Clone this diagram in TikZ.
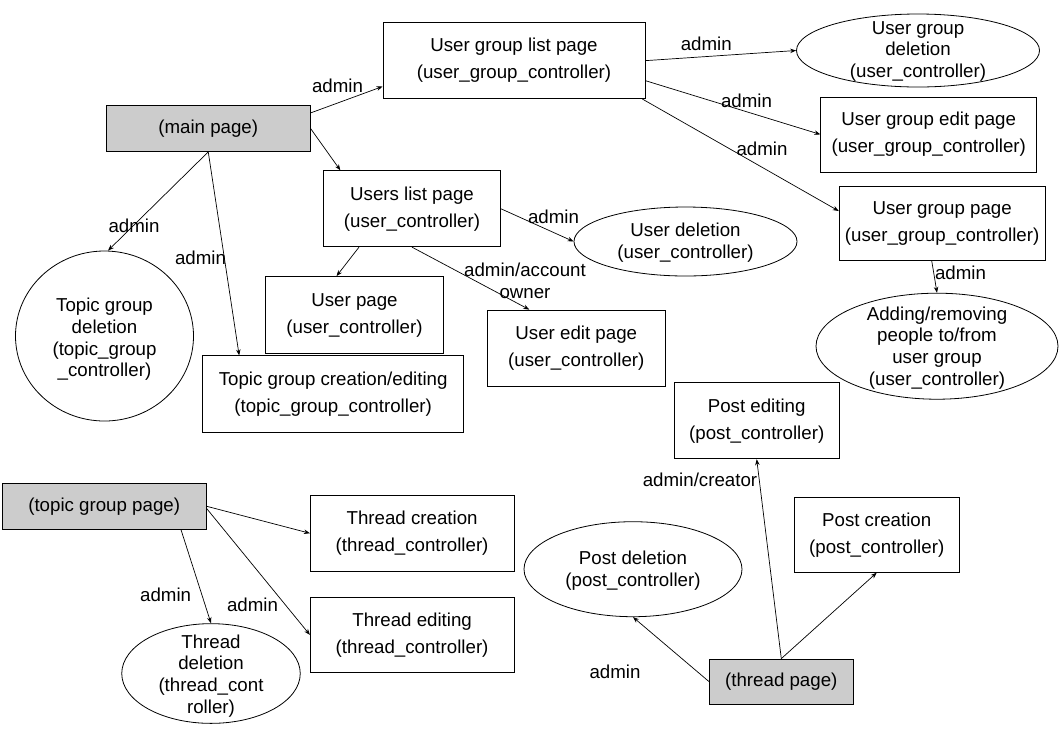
\documentclass[tikz,border=0pt]{standalone}
\usepackage{fontspec}
\setmainfont{Liberation Sans}
\usetikzlibrary{shapes.geometric,arrows.meta}

\definecolor{pagegray}{HTML}{CCCCCC}

\tikzset{
  page/.style={draw=black, line width=0.8pt, rectangle, align=center, inner sep=0pt,
    font=\fontsize{18.7}{27}\selectfont},
  hub/.style={page, fill=pagegray},
  action/.style={draw=black, line width=0.8pt, ellipse, inner sep=0pt},
  actiontext/.style={align=center, inner sep=0pt, font=\fontsize{18.7}{21.8}\selectfont},
  role/.style={align=center, inner sep=0pt, font=\fontsize{18.7}{21.8}\selectfont},
  link/.style={draw=black, line width=0.7pt, -{Stealth[length=6pt,width=4.5pt]}},
}

\begin{document}
\begin{tikzpicture}[x=1pt,y=-1pt]
\fill[white] (0,0) rectangle (1059,748);
\useasboundingbox (0,0) rectangle (1059,748);

% --- user administration ---
\node[hub, minimum width=203.5pt, minimum height=46.5pt] (main) at (208.25,128.25) {(main page)};
\node[page, minimum width=262pt, minimum height=76pt] (ugl) at (514,60.65) {User group list page\\(user\_group\_controller)};
\node[page, minimum width=177pt, minimum height=76pt] (usl) at (412,208.75) {Users list page\\(user\_controller)};
\node[page, minimum width=216pt, minimum height=75pt] (uge) at (928.75,134.4) {User group edit page\\(user\_group\_controller)};
\node[page, minimum width=206pt, minimum height=74pt] (ugp) at (942.15,223) {User group page\\(user\_group\_controller)};
\node[page, minimum width=178pt, minimum height=77pt] (usp) at (354.5,315) {User page\\(user\_controller)};
\node[page, minimum width=260.7pt, minimum height=76.8pt] (tgc) at (333.15,394.2) {Topic group creation/editing\\(topic\_group\_controller)};
\node[page, minimum width=178.6pt, minimum height=76pt] (use) at (576.3,348) {User edit page\\(user\_controller)};

\node[action, minimum width=243pt, minimum height=73pt] (ugd) at (918,50.5) {};
\node[actiontext] (ugdt) at (918,51.4) {User group\\deletion\\(user\_controller)};
\node[action, minimum width=223pt, minimum height=69pt] (usd) at (685.5,241.5) {};
\node[actiontext] (usdt) at (685.5,242.4) {User deletion\\(user\_controller)};
\node[action, minimum width=178pt, minimum height=170pt] (tgd) at (104.5,336) {};
\node[actiontext] (tgdt) at (104.5,339.3) {Topic group\\deletion\\(topic\_group\\\_controller)};
\node[action, minimum width=242pt, minimum height=106pt] (add) at (937,346.2) {};
\node[actiontext] (addt) at (937,348) {Adding/removing\\people to/from\\user group\\(user\_controller)};

% --- topic group area ---
\node[hub, minimum width=203.6pt, minimum height=45.6pt] (tgp) at (104.2,506.2) {(topic group page)};
\node[page, minimum width=203.6pt, minimum height=76.1pt] (tc) at (412.1,533.25) {Thread creation\\(thread\_controller)};
\node[page, minimum width=203.6pt, minimum height=75.7pt] (te) at (412.1,634.85) {Thread editing\\(thread\_controller)};
\node[action, minimum width=178.5pt, minimum height=99.7pt] (td) at (211,673.5) {};
\node[actiontext] (tdt) at (211,676) {Thread\\deletion\\(thread\_cont\\roller)};

% --- thread area ---
\node[hub, minimum width=144pt, minimum height=45pt] (thr) at (781.3,681.5) {(thread page)};
\node[page, minimum width=164.6pt, minimum height=76.2pt] (pe) at (756.7,420.7) {Post editing\\(post\_controller)};
\node[page, minimum width=164.7pt, minimum height=75pt] (pc) at (876.7,534.8) {Post creation\\(post\_controller)};
\node[action, minimum width=218pt, minimum height=95pt] (pd) at (633,569.2) {};
\node[actiontext] (pdt) at (633,570.5) {Post deletion\\(post\_controller)};

% --- connectors ---
\draw[link] ([yshift=15.25pt]main.east) -- ([yshift=-25.85pt]ugl.west);
\draw[link] (main.east) -- ([xshift=-71.6pt]usl.north);
\draw[link] (main.south) -- ([xshift=3.5pt]tgd.north);
\draw[link] (main.south) -- ([xshift=-94pt]tgc.north);
\draw[link] (ugl.east) -- (ugd.west);
\draw[link] ([yshift=-20pt]ugl.east) -- (uge.west);
\draw[link] ([xshift=-3pt]ugl.south east) -- ([yshift=12pt]ugp.west);
\draw[link] (usl.east) -- (usd.west);
\draw[link] ([xshift=-53pt]usl.south) -- ([xshift=-18pt]usp.north);
\draw[link] (usl.south) -- ([xshift=-47pt]use.north);
\draw[link] ([xshift=-10.5pt]ugp.south) -- (add.north);
\draw[link] (thr.north) -- (pe.south);
\draw[link] (thr.north) -- (pc.south);
\draw[link] (thr.west) -- (pd.south);
\draw[link] (tgp.east) -- (tc.west);
\draw[link] ([yshift=-2pt]tgp.east) -- (te.west);
\draw[link] ([xshift=76.7pt]tgp.south) -- (td.north);

% --- access labels ---
\node[role] (r1) at (337.5,86) {admin};
\node[role] (r2) at (134,226) {admin};
\node[role] (r3) at (200.5,257.5) {admin};
\node[role] (r4) at (706.3,44) {admin};
\node[role] (r5) at (746.5,100.5) {admin};
\node[role] (r6) at (762,148.5) {admin};
\node[role] (r7) at (553.5,217) {admin};
\node[role] (r8) at (525,280.5) {admin/account\\owner};
\node[role] (r9) at (960.5,273) {admin};
\node[role] (r10) at (700,480) {admin/creator};
\node[role] (r11) at (615,671.7) {admin};
\node[role] (r12) at (165.6,595) {admin};
\node[role] (r13) at (252.5,604.4) {admin};
\end{tikzpicture}
\end{document}
